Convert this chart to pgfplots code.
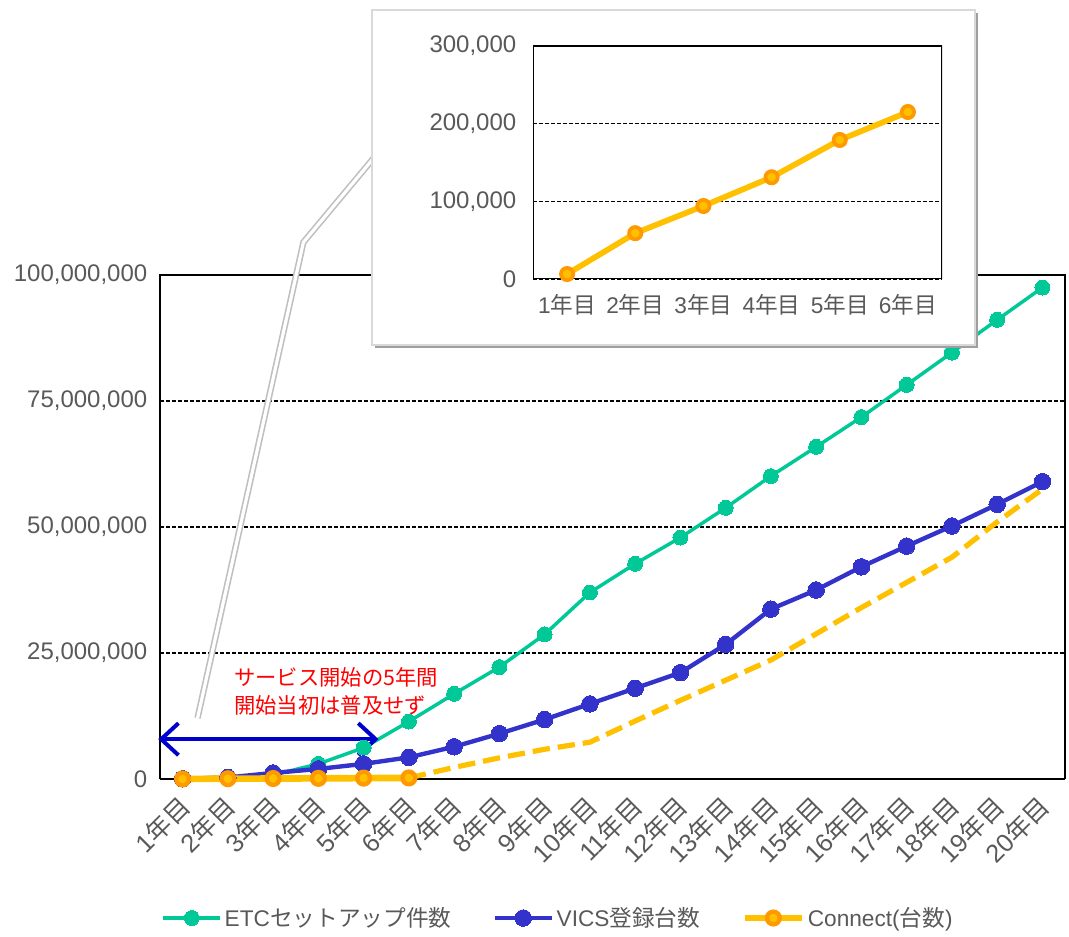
\documentclass[border=0pt]{standalone}
\usepackage{fontspec}
\setmainfont{Liberation Sans}
\newfontfamily\jp{Noto Sans CJK JP}
\usepackage{pgfplots}
\usepackage{pgfplotstable}
\pgfplotsset{compat=1.18}
\usetikzlibrary{arrows.meta}

\definecolor{etc}{HTML}{00C896}
\definecolor{vics}{HTML}{3333CC}
\definecolor{conn}{HTML}{FFC000}
\definecolor{connmk}{HTML}{FF9900}
\definecolor{ticktext}{HTML}{595959}
\definecolor{baseline}{HTML}{D9D9D9}
\definecolor{arrowblue}{HTML}{0000CC}

\newcommand{\yr}[1]{#1{\jp 年目}}
\newcommand{\tfont}{\fontsize{18pt}{21pt}\selectfont}

% ETC set-up counts and VICS registrations, years 1-20
\pgfplotstableread{
year etc      vics
1    50000    50000
2    200000   300000
3    800000   1200000
4    3000000  2000000
5    6200000  3000000
6    11400000 4300000
7    16900000 6400000
8    22200000 9000000
9    28700000 11800000
10   37000000 14900000
11   42700000 18000000
12   47900000 21100000
13   53800000 26700000
14   60100000 33700000
15   65900000 37500000
16   71800000 42100000
17   78200000 46200000
18   84600000 50200000
19   91100000 54500000
20   97500000 59000000
}\maindata

% Connect: first six years (actual)
\pgfplotstableread{
year conn
1 6400
2 59000
3 94000
4 131000
5 179000
6 215000
}\connearly

% Connect: projection, years 6-20
\pgfplotstableread{
year conn
6  215000
7  2300000
8  4200000
9  5900000
10 7300000
11 11500000
12 15600000
13 19600000
14 23600000
15 28800000
16 34000000
17 39000000
18 44000000
19 51000000
20 57500000
}\connlate

\begin{document}
\begin{tikzpicture}
\begin{axis}[
  at={(120pt,117.75pt)}, anchor=south west,
  scale only axis, width=678.75pt, height=378pt,
  xmin=0.5, xmax=20.5, ymin=0, ymax=100000000,
  xtick={1,...,20},
  xticklabels={\yr{1},\yr{2},\yr{3},\yr{4},\yr{5},\yr{6},\yr{7},\yr{8},\yr{9},\yr{10},
               \yr{11},\yr{12},\yr{13},\yr{14},\yr{15},\yr{16},\yr{17},\yr{18},\yr{19},\yr{20}},
  x tick label style={font=\fontsize{19pt}{22pt}\selectfont, text=ticktext,
    xshift=4.5pt, yshift=-14.5pt, rotate=45, anchor=east},
  ytick={0,25000000,50000000,75000000,100000000},
  scaled y ticks=false,
  /pgf/number format/.cd, fixed, 1000 sep={,}, assume math mode=true,
  /pgfplots/.cd,
  y tick label style={font=\tfont, text=ticktext, xshift=-6pt},
  major tick length=0pt,
  ymajorgrids,
  grid style={black, line width=1pt, dash pattern=on 3pt off 1.5pt},
  axis line style={draw=none},
  clip=false,
  legend columns=3,
  legend style={at={(0.4403,-0.2758)}, anchor=center, draw=none, fill=none,
    font=\fontsize{17pt}{20pt}\selectfont, text=ticktext,
    /tikz/every odd column/.append style={column sep=0pt},
    /tikz/every even column/.append style={column sep=29pt}},
  legend image code/.code={\draw[mark repeat=2,mark phase=2]
    plot coordinates {(0cm,0cm)(0.75cm,0cm)(1.5cm,0cm)};},
]
% frame: black on three sides, light grey baseline
\draw[black, line width=1pt] (rel axis cs:0,0) -- (rel axis cs:0,1) -- (rel axis cs:1,1) -- (rel axis cs:1,0);
\draw[baseline, line width=1.5pt] (rel axis cs:0,0) -- (rel axis cs:1,0);

\addplot[conn, line width=3.9pt, dash pattern=on 13pt off 6pt, forget plot]
  table[x=year, y=conn] {\connlate};
\addplot[etc, line width=2.6pt, mark=*, mark size=5.6pt,
  mark options={draw=etc, fill=etc, line width=0pt, solid}]
  table[x=year, y=etc] {\maindata};
\addlegendentry{ETC{\jp セットアップ件数}}
\addplot[vics, line width=3.3pt, mark=*, mark size=6.2pt,
  mark options={draw=vics, fill=vics, line width=0pt, solid}]
  table[x=year, y=vics] {\maindata};
\addlegendentry{VICS{\jp 登録台数}}
\addplot[conn, line width=5pt, mark=*, mark size=4.8pt,
  mark options={draw=connmk, fill=conn, line width=3.2pt, solid}]
  table[x=year, y=conn] {\connearly};
\addlegendentry{Connect({\jp 台数})}

% callout connector towards the inset
\draw[draw=gray!50, double=white, double distance=2.4pt, line width=1.2pt]
  (axis cs:1.33,12100000) -- (axis cs:3.67,106500000) -- (axis cs:5.25,123500000);

% span of the first five years
\draw[arrowblue, line width=3pt, {Straight Barb[length=13pt, width=24pt, line width=3pt]}-{Straight Barb[length=13pt, width=24pt, line width=3pt]}]
  (axis cs:0.46,7900000) -- (axis cs:5.33,7900000);
\node[anchor=west, align=left, text=red, font=\jp\fontsize{16pt}{21pt}\selectfont, inner sep=0pt]
  at (axis cs:2.13,17400000) {サービス開始の5年間\\開始当初は普及せず};
\end{axis}

% inset panel with drop shadow
\fill[gray!75] (281.5pt,441pt) rectangle (733.5pt,692.25pt);
\filldraw[fill=white, draw=baseline, line width=1.5pt] (279pt,443.25pt) rectangle (731.25pt,694.5pt);

\begin{axis}[
  at={(399.75pt,492.75pt)}, anchor=south west,
  scale only axis, width=306.75pt, height=174.75pt,
  xmin=0.5, xmax=6.5, ymin=0, ymax=300000,
  xtick={1,...,6},
  xticklabels={\yr{1},\yr{2},\yr{3},\yr{4},\yr{5},\yr{6}},
  x tick label style={font=\fontsize{17pt}{20pt}\selectfont, text=ticktext, yshift=-8pt},
  ytick={0,100000,200000,300000},
  scaled y ticks=false,
  /pgf/number format/.cd, fixed, 1000 sep={,}, assume math mode=true,
  /pgfplots/.cd,
  y tick label style={font=\tfont, text=ticktext, xshift=-9pt},
  major tick length=0pt,
  ymajorgrids,
  grid style={black, line width=1pt, dash pattern=on 3pt off 1.5pt},
  axis line style={draw=none},
]
\draw[black, line width=1pt] (rel axis cs:0,0) -- (rel axis cs:0,1) -- (rel axis cs:1,1) -- (rel axis cs:1,0);
\draw[baseline, line width=1.5pt] (rel axis cs:0,0) -- (rel axis cs:1,0);
\addplot[conn, line width=4.3pt, mark=*, mark size=4.6pt,
  mark options={draw=connmk, fill=conn, line width=2.8pt, solid}]
  table[x=year, y=conn] {\connearly};
\end{axis}

\pgfresetboundingbox
\useasboundingbox (0,0) rectangle (801.75pt,702pt);
\end{tikzpicture}
\end{document}
